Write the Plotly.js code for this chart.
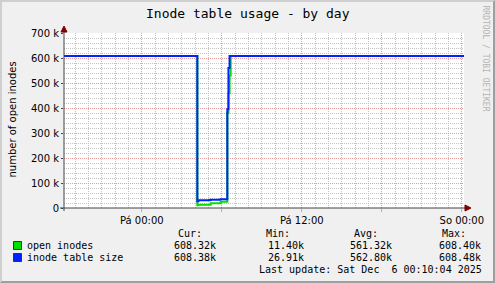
<!DOCTYPE html>
<html><head><meta charset="utf-8">
<script src="https://cdn.plot.ly/plotly-3.0.1.min.js"></script>
<style>
html,body{margin:0;padding:0;background:#f0f0f0;}
#wrap{position:relative;width:495px;height:283px;overflow:hidden;}
#chart{position:absolute;left:0;top:0;width:495px;height:283px;}
#frame{position:absolute;left:0;top:0;width:495px;height:283px;box-sizing:border-box;border-top:2px solid #cfcfcf;border-left:2px solid #cfcfcf;border-right:2px solid #9e9e9e;border-bottom:2px solid #9e9e9e;pointer-events:none;}
</style></head>
<body><div id="wrap"><div id="chart"></div><div id="frame"></div></div>
<script>
// ---- data ----
const times = ['2025-12-04 18:10','2025-12-05 04:05','2025-12-05 04:10','2025-12-05 04:15','2025-12-05 05:05','2025-12-05 05:10','2025-12-05 05:50','2025-12-05 05:55','2025-12-05 06:20','2025-12-05 06:25','2025-12-05 06:30','2025-12-05 06:35','2025-12-05 06:40','2025-12-06 00:10'];
const openInodes = [608300,608300,11400,13000,13000,19000,19000,25000,25000,380000,460000,530000,608300,608320];
const tableSize  = [608400,608400,26910,31000,32000,33000,34000,35000,35000,395000,560000,608400,608400,608380];
const seriesNames = ['open inodes','inode table size'];
const xRange = ['2025-12-04 18:10','2025-12-06 00:10'];
const xTickVals = ['2025-12-05 00:00','2025-12-05 06:00','2025-12-05 12:00','2025-12-05 18:00','2025-12-06 00:00'];
const xTickText = ['Pá 00:00','','Pá 12:00','','So 00:00'];
const yTickVals = [0,100000,200000,300000,400000,500000,600000,700000];
const yTickText = ['0','100 k','200 k','300 k','400 k','500 k','600 k','700 k'];
const statHeaders = ['Cur:','Min:','Avg:','Max:'];
const statsOpen = ['608.32k','11.40k','561.32k','608.40k'];
const statsSize = ['608.38k','26.91k','562.80k','608.48k'];
const titleText = 'Inode table usage - by day';
const yTitle = 'number of open inodes';
const lastUpdate = 'Last update: Sat Dec \u00a06 00:10:04 2025';
const watermark = 'RRDTOOL / TOBI OETIKER';

// ---- styles / geometry ----
const colors = ['#00e000','#0022ff'];
const L=64, R=464, T=33, B=208;
const fx = p => (p-L)/(R-L);
const fy = p => (B-p)/(B-T);
const mono = 'DejaVu Sans Mono';
const sans = 'DejaVu Sans';
const minorGrid = '#c4c4c4', majorGrid = '#e49a9a';

const traces = [
  {x: [xRange[0]], y: [null], xaxis:'x2', yaxis:'y2', mode:'lines', hoverinfo:'skip'},
  {x: times, y: openInodes, name: seriesNames[0], mode:'lines', line:{color:colors[0], width:2, shape:'hv'}},
  {x: times, y: tableSize, name: seriesNames[1], mode:'lines', line:{color:colors[1], width:2, shape:'hv'}}
];

const ann = [];
function txt(text, x, y, opts){
  ann.push(Object.assign({text, x:fx(x), y:fy(y), xref:'paper', yref:'paper', showarrow:false,
    xanchor:'left', yanchor:'middle', borderpad:0, borderwidth:0,
    font:{family:mono, size:10, color:'#000'}}, opts||{}));
}
txt(titleText, 247.5, 13.5, {xanchor:'center', font:{family:mono, size:13, color:'#000'}});
txt(yTitle, 11.5, 120, {xanchor:'center', textangle:-90, font:{family:sans, size:10, color:'#000'}});
txt(watermark, 485.5, 58, {xanchor:'center', textangle:90, font:{family:mono, size:8, color:'#b4b4b4'}});
txt(seriesNames[0], 26.5, 245);
txt(seriesNames[1], 26.5, 257.5);
const hdrRight = [202, 290, 378, 466];
const valRight = [216, 303.5, 392, 480.5];
statHeaders.forEach((h,i)=>txt(h, hdrRight[i], 233, {xanchor:'right'}));
statsOpen.forEach((v,i)=>txt(v, valRight[i], 245, {xanchor:'right'}));
statsSize.forEach((v,i)=>txt(v, valRight[i], 257.5, {xanchor:'right'}));
txt(lastUpdate, 481.5, 269.7, {xanchor:'right'});

const shapes = [
  {type:'rect', xref:'paper', yref:'paper', x0:fx(13.5), x1:fx(21.5), y0:fy(249.5), y1:fy(241.5), fillcolor:colors[0], line:{color:'#333', width:1}},
  {type:'rect', xref:'paper', yref:'paper', x0:fx(13.5), x1:fx(21.5), y0:fy(261.5), y1:fy(253.5), fillcolor:colors[1], line:{color:'#333', width:1}},
  {type:'line', xref:'paper', yref:'paper', x0:fx(64), x1:fx(64), y0:fy(211), y1:fy(30), line:{color:'#444', width:1}},
  {type:'line', xref:'paper', yref:'paper', x0:fx(60), x1:fx(466), y0:fy(208), y1:fy(208), line:{color:'#444', width:1}},
  {type:'path', xref:'paper', yref:'paper', path:`M ${fx(64)},${fy(26)} L ${fx(61)},${fy(32)} L ${fx(67)},${fy(32)} Z`, fillcolor:'#7f0000', line:{color:'#7f0000', width:1}},
  {type:'path', xref:'paper', yref:'paper', path:`M ${fx(471)},${fy(208)} L ${fx(465)},${fy(205)} L ${fx(465)},${fy(211)} Z`, fillcolor:'#7f0000', line:{color:'#7f0000', width:1}}
];

const layout = {
  width:495, height:283,
  margin:{l:L, r:495-R, t:T, b:283-B, pad:0},
  paper_bgcolor:'#f0f0f0', plot_bgcolor:'#ffffff',
  showlegend:false,
  // minor (hourly / 20k) grid on the main axes
  xaxis:{type:'date', range:xRange, tickmode:'linear', tick0:'2025-12-05 00:00', dtick:3600000,
    showgrid:true, gridcolor:minorGrid, griddash:'1px,1px', gridwidth:1,
    showticklabels:false, ticks:'', showline:false, zeroline:false, fixedrange:true},
  yaxis:{range:[0,700000], tickmode:'linear', tick0:0, dtick:20000,
    showgrid:true, gridcolor:minorGrid, griddash:'1px,1px', gridwidth:1,
    showticklabels:false, ticks:'', showline:false, zeroline:false, fixedrange:true},
  // major grid + labels on overlay axes
  xaxis2:{type:'date', overlaying:'x', anchor:'y2', side:'bottom', range:xRange,
    tickmode:'array', tickvals:xTickVals, ticktext:xTickText,
    showgrid:true, gridcolor:majorGrid, griddash:'1px,1px', gridwidth:1,
    ticks:'outside', ticklen:3, tickcolor:majorGrid, showline:false, zeroline:false,
    tickfont:{family:sans, size:10, color:'#000'}, fixedrange:true},
  yaxis2:{overlaying:'y', anchor:'x2', side:'left', range:[0,700000],
    tickmode:'array', tickvals:yTickVals, ticktext:yTickText,
    showgrid:true, gridcolor:majorGrid, griddash:'1px,1px', gridwidth:1,
    ticks:'outside', ticklen:2, tickcolor:'#444', showline:false, zeroline:false,
    tickfont:{family:sans, size:10, color:'#000'}, fixedrange:true},
  annotations:ann, shapes:shapes
};
Plotly.newPlot('chart', traces, layout, {staticPlot:true, displayModeBar:false});
</script>
</body></html>
